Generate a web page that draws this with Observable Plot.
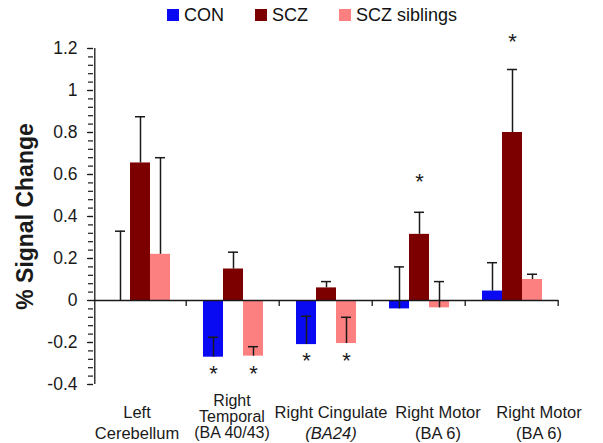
<!DOCTYPE html>
<html><head><meta charset="utf-8">
<script src="https://cdn.jsdelivr.net/npm/d3@7"></script>
<script src="https://cdn.jsdelivr.net/npm/@observablehq/plot@0.6"></script>
<style>
body{margin:0;background:#fff;font-family:"Liberation Sans",Arial,Helvetica,sans-serif;color:#111;}
#legend{height:30px;display:flex;align-items:center;padding-left:167px;box-sizing:border-box;font-size:18px;}
.item{display:flex;align-items:center;margin-right:31px;}
.sw{width:12px;height:12px;margin-right:5px;}
#chart svg{display:block;overflow:visible;}
</style></head><body>
<div id="legend"></div>
<div id="chart"></div>
<script>
// ---- data ----
const regionIds = ["LC", "RT", "RC", "RM1", "RM2"];
const regionLabels = ["Left\nCerebellum", "Right\nTemporal\n(BA 40/43)", "Right Cingulate\n(BA24)", "Right Motor\n(BA 6)", "Right Motor\n(BA 6)"];
const groups = ["CON", "SCZ", "SCZ siblings"];
const conMean = [0, -0.27, -0.21, -0.04, 0.045];
const conCap  = [0.33, -0.175, -0.075, 0.16, 0.18];
const sczMean = [0.655, 0.15, 0.06, 0.315, 0.80];
const sczCap  = [0.875, 0.23, 0.09, 0.42, 1.10];
const sibMean = [0.22, -0.265, -0.205, -0.035, 0.10];
const sibCap  = [0.68, -0.22, -0.08, 0.09, 0.125];
const starRegion = ["RT", "RT", "RC", "RC", "RM1", "RM2"];
const starGroup  = ["CON", "SCZ siblings", "CON", "SCZ siblings", "SCZ", "SCZ"];
const starY      = [-0.325, -0.328, -0.262, -0.262, 0.59, 1.255];
const yTicks = [-0.4, -0.2, 0, 0.2, 0.4, 0.6, 0.8, 1, 1.2];
const yLabel = "% Signal Change";

// ---- styles / layout ----
const colors = ["#0a0af2", "#7d0000", "#fd8080"];
const W = 603, H = 413, ML = 92, MR = 44, MT = 18, MB = 59;
const PO = 0.724;
const facetW = (W - ML - MR) / regionIds.length;
const bw = facetW / (groups.length + 2 * PO);
const edge = PO * bw + bw / 2;
const ink = "#1a1a1a";
const labelLayout = {
  LC:  {dx: -3, dy: 19, lh: 1.27, fs: 16.5},
  RT:  {dx: -1, dy: 10.5, lh: 1.0, fs: 16},
  RC:  {dx: 5, dy: 19, lh: 1.27, fs: 16.5},
  RM1: {dx: 19, dy: 19, lh: 1.27, fs: 16.5},
  RM2: {dx: 27, dy: 19, lh: 1.27, fs: 16.5}
};

const means = [conMean, sczMean, sibMean];
const caps = [conCap, sczCap, sibCap];
const rows = regionIds.flatMap((r, i) => groups.map((g, j) => ({region: r, group: g, value: means[j][i], cap: caps[j][i]})));
const stars = starRegion.map((r, i) => ({region: r, group: starGroup[i], y: starY[i]}));
const labelRows = regionIds.map((r, i) => ({region: r, label: regionLabels[i]}));
const minorTicks = d3.range(0, 41).map(k => -0.4 + k * 0.04);

// legend
const leg = document.getElementById("legend");
groups.forEach((g, i) => {
  const it = document.createElement("div"); it.className = "item";
  const sw = document.createElement("div"); sw.className = "sw"; sw.style.background = colors[i];
  const tx = document.createElement("span"); tx.textContent = g;
  it.appendChild(sw); it.appendChild(tx); leg.appendChild(it);
});

const svg = Plot.plot({
  width: W, height: H, marginLeft: ML, marginRight: MR, marginTop: MT, marginBottom: MB,
  style: {fontFamily: '"Liberation Sans", Arial, Helvetica, sans-serif', color: ink, background: "#fff", overflow: "visible"},
  fx: {domain: regionIds, paddingInner: 0, paddingOuter: 0, axis: null, label: null},
  x: {domain: groups, paddingInner: 0, paddingOuter: PO, axis: null},
  y: {domain: [-0.4, 1.2]},
  color: {domain: groups, range: colors},
  marks: [
    Plot.barY(rows, {fx: "region", x: "group", y: "value", fill: "group"}),
    Plot.ruleY([0], {stroke: ink, strokeWidth: 1.3}),
    Plot.ruleX(rows, {fx: "region", x: "group", y1: "value", y2: "cap", stroke: ink, strokeWidth: 1.5}),
    Plot.tickY(rows, {fx: "region", x: "group", y: "cap", insetLeft: 5, insetRight: 5, stroke: ink, strokeWidth: 1.5}),
    Plot.text(stars, {fx: "region", x: "group", y: "y", text: () => "*", fontSize: 22, lineAnchor: "middle", dy: 5, fill: ink}),
    Plot.ruleX([regionIds[0]], {fx: d => d, x: () => groups[0], dx: -edge, y1: () => yTicks[0], y2: () => yTicks[yTicks.length - 1], stroke: ink, strokeWidth: 1.3}),
    Plot.ruleX(regionIds, {fx: d => d, x: () => groups[groups.length - 1], dx: edge, y1: () => 0, y2: () => 0, insetBottom: -6, stroke: ink, strokeWidth: 1.3}),
    Plot.axisY({ticks: minorTicks, tickSize: 5, tickFormat: () => "", label: null, stroke: ink, strokeWidth: 1.2}),
    Plot.axisY({ticks: yTicks, tickSize: 6, tickPadding: 10, fontSize: 17.5, tickFormat: d => String(+d.toFixed(1)), label: null, stroke: ink, strokeWidth: 1.2}),
    Plot.axisY({ticks: [], tickSize: 0, label: yLabel, labelAnchor: "center", labelArrow: "none", labelOffset: 77, fontSize: 23, fontWeight: "bold"}),
    ...labelRows.map(d => Plot.text([d], {
      fx: "region", text: "label", frameAnchor: "bottom", lineAnchor: "top",
      dx: labelLayout[d.region].dx, dy: labelLayout[d.region].dy, lineHeight: labelLayout[d.region].lh,
      fontSize: labelLayout[d.region].fs, fill: ink
    }))
  ]
});
svg.querySelectorAll("tspan").forEach(t => { if (t.textContent === "(BA24)") t.setAttribute("font-style", "italic"); });
document.getElementById("chart").appendChild(svg);
</script>
</body></html>
